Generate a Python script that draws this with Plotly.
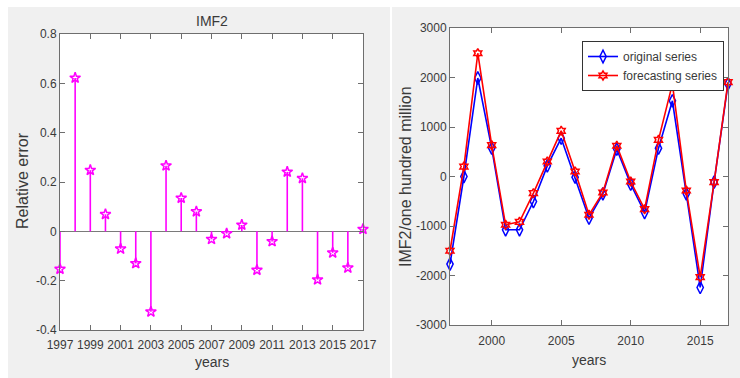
import plotly.graph_objects as go

W, H = 740, 378

# ---- data ----
years = list(range(1997, 2018))

relative_error = [-0.153, 0.622, 0.248, 0.069, -0.071, -0.130, -0.326, 0.266,
                  0.135, 0.080, -0.032, -0.009, 0.026, -0.157, -0.041, 0.241,
                  0.215, -0.196, -0.087, -0.148, 0.009]

original_series = [-1770, 0, 1990, 572, -1077, -1077, -505, 215, 774, -13,
                   -842, -350, 552, -155, -727, 572, 1529, -350, -2242, -114, 1872]

forecasting_series = [-1500, 200, 2490, 633, -976, -916, -337, 303, 922, 100,
                      -774, -323, 620, -101, -660, 741, 1872, -283, -2034, -114, 1906]

left_xticks = list(range(1997, 2018, 2))
left_yticks = [-0.4, -0.2, 0, 0.2, 0.4, 0.6, 0.8]
left_yticklabels = ["-0.4", "-0.2", "0", "0.2", "0.4", "0.6", "0.8"]

right_xticks = [2000, 2005, 2010, 2015]
right_yticks = [-3000, -2000, -1000, 0, 1000, 2000, 3000]
right_yticklabels = ["-3000", "-2000", "-1000", "0", "1000", "2000", "3000"]

FONT = "Liberation Sans, Arial, sans-serif"
TXT = "#3a3a3a"
AX = "#6e6e6e"
MAG = "#ff00ff"


def px_x(p):
    return p / W


def px_y(p):
    return 1 - p / H


fig = go.Figure()

# stems of the relative error plot
stem_x, stem_y = [], []
for yr, v in zip(years, relative_error):
    stem_x += [yr, yr, None]
    stem_y += [0, v, None]
fig.add_trace(go.Scatter(x=stem_x, y=stem_y, mode="lines",
                         line=dict(color=MAG, width=1.6),
                         showlegend=False, hoverinfo="skip",
                         xaxis="x", yaxis="y"))
fig.add_trace(go.Scatter(x=years, y=relative_error, mode="markers",
                         marker=dict(symbol="star-open", size=8, color=MAG,
                                     line=dict(color=MAG, width=1.5)),
                         showlegend=False, cliponaxis=False,
                         xaxis="x", yaxis="y"))

# original vs forecast
fig.add_trace(go.Scatter(x=years, y=original_series, mode="lines+markers",
                         name="original series",
                         line=dict(color="#0000ff", width=1.6),
                         marker=dict(symbol="diamond-tall-open", size=9,
                                     color="#0000ff",
                                     line=dict(color="#0000ff", width=1.5)),
                         cliponaxis=False, xaxis="x2", yaxis="y2"))
fig.add_trace(go.Scatter(x=years, y=forecasting_series, mode="lines+markers",
                         name="forecasting series",
                         line=dict(color="#ff0000", width=1.6),
                         marker=dict(symbol="hexagram-open", size=7,
                                     color="#ff0000",
                                     line=dict(color="#ff0000", width=1.5)),
                         cliponaxis=False, xaxis="x2", yaxis="y2"))

axis_common = dict(showline=True, linecolor=AX, linewidth=1, mirror="ticks",
                   ticks="inside", ticklen=5, tickcolor=AX, tickwidth=1,
                   showgrid=False, automargin=False,
                   tickfont=dict(family=FONT, size=12, color=TXT))

fig.update_layout(
    width=W, height=H,
    margin=dict(l=0, r=0, t=0, b=0),
    paper_bgcolor="#f0f0f0",
    plot_bgcolor="#ffffff",
    font=dict(family=FONT, size=12, color=TXT),
    xaxis=dict(domain=[px_x(60), px_x(363)], range=[1997, 2017],
               tickvals=left_xticks, zeroline=False, anchor="y",
               ticklabelstandoff=4, **axis_common),
    yaxis=dict(domain=[px_y(330), px_y(34)], range=[-0.4, 0.8],
               tickvals=left_yticks, ticktext=left_yticklabels,
               zeroline=True, zerolinecolor="#7a7a7a", zerolinewidth=1,
               anchor="x", **axis_common),
    xaxis2=dict(domain=[px_x(450), px_x(728)], range=[1997, 2017],
                tickvals=right_xticks, zeroline=False, anchor="y2",
                ticklabelstandoff=5, **axis_common),
    yaxis2=dict(domain=[px_y(325), px_y(28)], range=[-3000, 3000],
                tickvals=right_yticks, ticktext=right_yticklabels,
                zeroline=False, anchor="x2", **axis_common),
    legend=dict(x=px_x(724), y=px_y(41), xanchor="right", yanchor="top",
                bgcolor="#ffffff", bordercolor="#333333", borderwidth=1,
                font=dict(family=FONT, size=12, color=TXT),
                tracegroupgap=0, itemwidth=30),
    showlegend=True,
)

# white gaps around the two grey panels
for x0, x1, y0, y1 in [(0, W, 0, 7), (0, 8, 0, H), (390, 392, 0, H)]:
    fig.add_shape(type="rect", xref="paper", yref="paper",
                  x0=px_x(x0), x1=px_x(x1), y0=px_y(y1), y1=px_y(y0),
                  fillcolor="#ffffff", line=dict(width=0), layer="below")

annotations = [
    dict(text="IMF2", x=px_x(211.5), y=px_y(21), size=14, angle=0),
    dict(text="years", x=px_x(211.5), y=px_y(362), size=14, angle=0),
    dict(text="Relative error", x=px_x(22), y=px_y(181), size=16, angle=-90),
    dict(text="years", x=px_x(589), y=px_y(360), size=14, angle=0),
    dict(text="IMF2/one hundred million", x=px_x(405), y=px_y(176), size=16, angle=-90),
]
for a in annotations:
    fig.add_annotation(text=a["text"], x=a["x"], y=a["y"], xref="paper", yref="paper",
                       xanchor="center", yanchor="middle", showarrow=False,
                       textangle=a["angle"],
                       font=dict(family=FONT, size=a["size"], color=TXT))

fig.write_html("out.html")
